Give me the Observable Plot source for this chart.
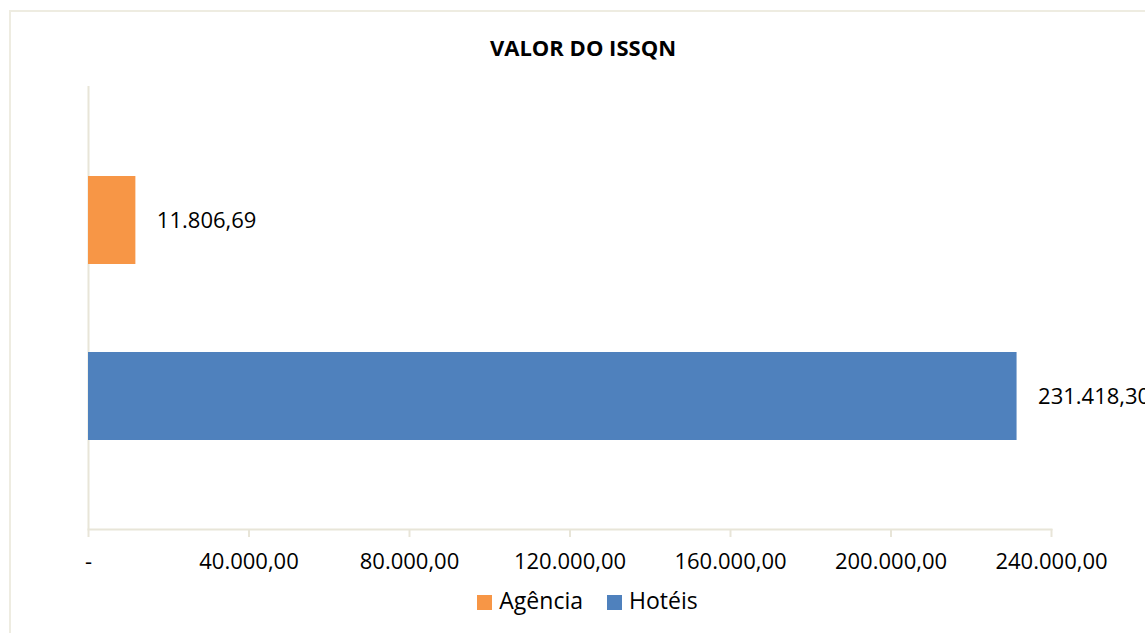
<!DOCTYPE html>
<html>
<head>
<meta charset="utf-8">
<script src="https://cdn.jsdelivr.net/npm/d3@7"></script>
<script src="https://cdn.jsdelivr.net/npm/@observablehq/plot@0.6"></script>
<style>
  html, body { margin: 0; padding: 0; background: #fff; }
  #page { position: relative; width: 1145px; height: 633px; overflow: hidden; font-family: "Open Sans", sans-serif; }
  #frame { position: absolute; left: 9px; top: 10px; width: 1160px; height: 640px; border: 2px solid #EEECE1; box-sizing: border-box; }
  #title { position: absolute; left: 10px; width: 1146px; top: 32px; line-height: 30px; font-size: 22px; font-weight: bold; text-align: center; color: #000; }
  #chart { position: absolute; left: 0; top: 60px; }
  #legend { position: absolute; left: 0; width: 1175px; top: 585px; display: flex; justify-content: center; font-size: 23px; line-height: 30px; color: #000; }
  .item { display: flex; align-items: center; margin: 0 12px; }
  .sw { width: 15px; height: 15px; margin-right: 7px; margin-top: 4px; }
</style>
</head>
<body>
<div id="page">
  <div id="frame"></div>
  <div id="title">VALOR DO ISSQN</div>
  <div id="chart"></div>
  <div id="legend"></div>
</div>
<script>
const categories = ["Agência", "Hotéis"];
const values = [11806.69, 231418.30];
const colors = ["#F79646", "#4F81BD"];
const xTicks = [0, 40000, 80000, 120000, 160000, 200000, 240000];
const titleText = "VALOR DO ISSQN";

const br = d3.formatLocale({decimal: ",", thousands: ".", grouping: [3], currency: ["R$", ""]});
const fmt = br.format(",.2f");
const tickFmt = d => d === 0 ? "-" : fmt(d);

const data = categories.map((c, i) => ({category: c, value: values[i]}));
const axisColor = "#E8E5D8";

const chart = Plot.plot({
  width: 1145,
  height: 540,
  marginLeft: 88,
  marginRight: 94,
  marginTop: 27,
  marginBottom: 71,
  style: {fontFamily: "Open Sans, sans-serif", fontSize: "22px", color: "#000", background: "transparent", overflow: "visible"},
  x: {domain: [0, 240000], axis: null},
  y: {domain: categories, axis: null, paddingInner: 0.5, paddingOuter: 0.5},
  color: {domain: categories, range: colors},
  marks: [
    Plot.ruleX([0], {stroke: axisColor, strokeWidth: 2, insetTop: -1}),
    Plot.frame({anchor: "bottom", stroke: axisColor, strokeWidth: 2}),
    Plot.axisX({ticks: xTicks, tickFormat: tickFmt, tickSize: 8, tickPadding: 16, stroke: axisColor, fill: "#000", fontSize: 22, strokeWidth: 2, label: null}),
    Plot.barX(data, {y: "category", x: "value", fill: "category"}),
    Plot.text(data, {y: "category", x: "value", text: d => fmt(d.value), textAnchor: "start", dx: 21, fill: "#000", fontSize: 22})
  ]
});
document.getElementById("chart").appendChild(chart);

const legend = document.getElementById("legend");
categories.forEach((c, i) => {
  const item = document.createElement("div");
  item.className = "item";
  const sw = document.createElement("div");
  sw.className = "sw";
  sw.style.background = colors[i];
  const label = document.createElement("span");
  label.textContent = c;
  item.appendChild(sw);
  item.appendChild(label);
  legend.appendChild(item);
});
</script>
</body>
</html>
